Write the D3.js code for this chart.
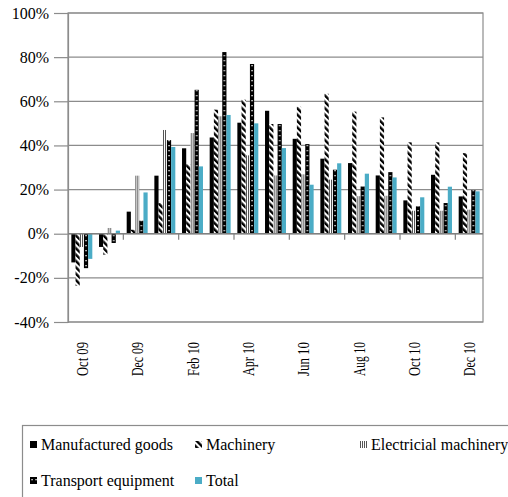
<!DOCTYPE html>
<html>
<head>
<meta charset="utf-8">
<script src="https://cdn.jsdelivr.net/npm/d3@7"></script>
<style>
  body { margin: 0; background: #fff; }
  text { font-family: "Liberation Serif", "Times New Roman", serif; fill: #000; }
</style>
</head>
<body>
<div id="canvas"></div>
<script>
// data (% change, year on year)
var months = ["Oct 09","Nov 09","Dec 09","Jan 10","Feb 10","Mar 10","Apr 10","May 10","Jun 10","Jul 10","Aug 10","Sep 10","Oct 10","Nov 10","Dec 10"];
var manufactured = [-13, -6, 10, 26.3, 38.7, 43.6, 50.3, 55.7, 43, 34, 32, 26.4, 15.1, 26.7, 16.9];
var machinery    = [-23.6, -9.5, 1.8, 13.9, 31.5, 56.2, 60.7, 49.7, 57.5, 63.4, 55.3, 52.7, 41.4, 41.4, 36.5];
var electrical   = [-6, 2.6, 26.3, 47, 45.6, 53.2, 35.5, 26.4, 26.9, 24.5, 17, 17.2, 10.4, 10.4, 10.9];
var transport    = [-15.6, -4.2, 5.9, 42.4, 65.2, 82.3, 76.9, 49.7, 40.6, 29, 21.4, 27.9, 12.4, 13.9, 19.8];
var total        = [-11.4, 1.4, 18.7, 39.3, 30.5, 53.8, 50, 38.8, 22.2, 31.9, 27.2, 25.5, 16.5, 21.3, 19.2];
var seriesNames  = ["Manufactured goods", "Machinery", "Electricial machinery", "Transport equipment", "Total"];
var yTicks = [-40, -20, 0, 20, 40, 60, 80, 100];

var seriesValues = [manufactured, machinery, electrical, transport, total];

var margin = {top: 13, right: 25, bottom: 175, left: 68},
    width = 415,
    height = 309;

var svg = d3.select("#canvas")
  .append("svg")
  .attr("width", 508)
  .attr("height", 497);

// patterns for the black and white fills
var defs = svg.append("defs");
var fills = ["#000", "url(#p-mach)", "url(#p-elec)", "url(#p-trans)", "#4BACC6"];

var pm = defs.append("pattern").attr("id", "p-mach")
  .attr("patternUnits", "userSpaceOnUse").attr("width", 4.5).attr("height", 4.5)
  .attr("patternTransform", "rotate(-45)");
pm.append("rect").attr("width", 4.5).attr("height", 4.5).attr("fill", "#fff");
pm.append("rect").attr("width", 2.4).attr("height", 4.5).attr("fill", "#000");

var pe = defs.append("pattern").attr("id", "p-elec")
  .attr("patternUnits", "userSpaceOnUse").attr("width", 2).attr("height", 2);
pe.append("rect").attr("width", 2).attr("height", 2).attr("fill", "#fff");
pe.append("rect").attr("width", 1).attr("height", 2).attr("fill", "#555");

var pt = defs.append("pattern").attr("id", "p-trans")
  .attr("patternUnits", "userSpaceOnUse").attr("width", 4).attr("height", 5);
pt.append("rect").attr("width", 4).attr("height", 5).attr("fill", "#000");
pt.append("rect").attr("x", 1.4).attr("y", 2).attr("width", 1.3).attr("height", 1.3).attr("fill", "#fff");

var g = svg.append("g")
  .attr("transform", "translate(" + margin.left + "," + margin.top + ")");

// scales
var x0 = d3.scaleBand().domain(months).range([0, width]).padding(0);
var x1 = d3.scaleBand().domain(d3.range(5)).range([0, x0.bandwidth()])
  .paddingInner(0).paddingOuter(0.8);
var y = d3.scaleLinear().domain([-40, 100]).range([height, 0]);

// gridlines
g.append("g").selectAll("line")
  .data(yTicks)
  .enter().append("line")
  .attr("x1", 0).attr("x2", width)
  .attr("y1", function(d) { return y(d); })
  .attr("y2", function(d) { return y(d); })
  .attr("stroke", "#8c8c8c").attr("stroke-width", 1.2);

// plot frame
g.append("rect")
  .attr("width", width).attr("height", height)
  .attr("fill", "none").attr("stroke", "#8c8c8c").attr("stroke-width", 1.2);

// bars
var groups = g.append("g").selectAll("g")
  .data(months)
  .enter().append("g")
  .attr("transform", function(d) { return "translate(" + x0(d) + ",0)"; });

groups.selectAll("rect")
  .data(function(m, i) { return seriesValues.map(function(s, k) { return {k: k, v: s[i]}; }); })
  .enter().append("rect")
  .attr("x", function(d) { return x1(d.k); })
  .attr("width", x1.bandwidth())
  .attr("y", function(d) { return y(Math.max(0, d.v)); })
  .attr("height", function(d) { return Math.abs(y(d.v) - y(0)); })
  .attr("fill", function(d) { return fills[d.k]; });

// Y axis
var yAxis = g.append("g")
  .call(d3.axisLeft(y).tickValues(yTicks).tickSize(14).tickPadding(5)
    .tickFormat(function(d) { return d + "%"; }));
yAxis.select(".domain").attr("stroke", "#8c8c8c").attr("stroke-width", 1.2);
yAxis.selectAll(".tick line").attr("stroke", "#8c8c8c").attr("stroke-width", 1.2);
yAxis.selectAll("text").style("font-size", "16px").attr("dy", "0.32em");

// zero line + category ticks
g.append("line")
  .attr("x1", 0).attr("x2", width).attr("y1", y(0)).attr("y2", y(0))
  .attr("stroke", "#808080").attr("stroke-width", 1.5);
g.append("g").selectAll("line")
  .data(months.filter(function(d, i) { return i > 0 && i % 2 === 0; }))
  .enter().append("line")
  .attr("x1", function(d) { return x0(d); })
  .attr("x2", function(d) { return x0(d); })
  .attr("y1", y(0)).attr("y2", y(0) + 6)
  .attr("stroke", "#808080").attr("stroke-width", 1.2);

// month labels under the plot
g.append("g").selectAll("text")
  .data(months.filter(function(d, i) { return i % 2 === 0; }))
  .enter().append("text")
  .attr("transform", function(d) {
    return "translate(" + (x0(d) + x0.bandwidth() / 2 + 0.5) + "," + (height + 20) + ") rotate(-90)";
  })
  .attr("text-anchor", "end")
  .attr("dy", "0.35em")
  .style("font-size", "16px")
  .attr("textLength", 34)
  .attr("lengthAdjust", "spacingAndGlyphs")
  .text(function(d) { return d; });

// legend
var legend = svg.append("g");
legend.append("rect")
  .attr("x", 22.5).attr("y", 425.5).attr("width", 520).attr("height", 90)
  .attr("fill", "none").attr("stroke", "#8c8c8c").attr("stroke-width", 1.2);

var legendPos = [[30, 441], [195, 441], [360, 441], [30, 477], [195, 477]];
var items = legend.selectAll("g.item")
  .data(seriesNames)
  .enter().append("g")
  .attr("class", "item")
  .attr("transform", function(d, i) { return "translate(" + legendPos[i][0] + "," + legendPos[i][1] + ")"; });
items.append("rect")
  .attr("width", 7).attr("height", 7)
  .attr("fill", function(d, i) { return fills[i]; });
items.append("text")
  .attr("x", 11).attr("y", 3.5).attr("dy", "0.35em")
  .style("font-size", "16px")
  .text(function(d) { return d; });
</script>
</body>
</html>
